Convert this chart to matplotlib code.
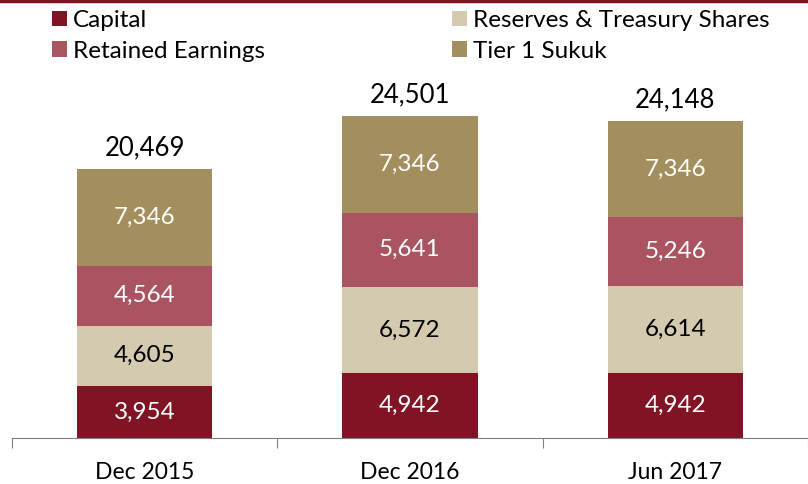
import numpy as np
import matplotlib.pyplot as plt
from matplotlib.lines import Line2D

plt.rcParams['font.family'] = ['Lato', 'DejaVu Sans']

categories = ['Dec 2015', 'Dec 2016', 'Jun 2017']
capital = [3954, 4942, 4942]
reserves = [4605, 6572, 6614]
retained = [4564, 5641, 5246]
sukuk = [7346, 7346, 7346]
totals = [20469, 24501, 24148]

series = [
    ('Capital', capital, '#801424', 'white'),
    ('Reserves & Treasury Shares', reserves, '#D3CAB0', 'black'),
    ('Retained Earnings', retained, '#AA5461', 'white'),
    ('Tier 1 Sukuk', sukuk, '#A38E5E', 'white'),
]

fig = plt.figure(figsize=(8.08, 4.84), dpi=100)
ax = fig.add_axes([12/808, 46/484, 796/808, 368/484])

x = np.arange(len(categories))
bottom = np.zeros(len(categories))
handles = {}
for name, vals, col, tcol in series:
    bars = ax.bar(x, vals, width=0.51, bottom=bottom, color=col, label=name)
    handles[name] = bars
    for xi, b, v in zip(x, bottom, vals):
        ax.text(xi, b + v / 2, f'{v:,}', ha='center', va='center',
                color=tcol, fontsize=17.5)
    bottom += np.array(vals)

for xi, t in zip(x, totals):
    ax.text(xi, t + 1600, f'{t:,}', ha='center', va='center',
            color='black', fontsize=18.5)

ax.set_xlim(-0.5, 2.5)
ax.set_ylim(0, 28000)
ax.set_yticks([])
for s in ['top', 'right', 'left']:
    ax.spines[s].set_visible(False)
ax.spines['bottom'].set_color('#808080')
ax.set_xticks([-0.5, 0.5, 1.5, 2.5])
ax.set_xticklabels([])
ax.set_xticks(x, minor=True)
ax.set_xticklabels(categories, minor=True, fontsize=16.5)
ax.tick_params(axis='x', which='major', length=7, color='#808080', direction='out')
ax.tick_params(axis='x', which='minor', length=0, pad=17.5)

leg_kw = dict(frameon=False, loc='upper left', fontsize=17.5,
              handlelength=0.62, handleheight=0.62, handletextpad=0.25,
              labelspacing=0.40, borderaxespad=0.0, borderpad=0.0)
col1 = ['Capital', 'Retained Earnings']
col2 = ['Reserves & Treasury Shares', 'Tier 1 Sukuk']
leg1 = fig.legend([handles[n] for n in col1], col1,
                  bbox_to_anchor=(52/808, 1 - 10/484), **leg_kw)
leg2 = fig.legend([handles[n] for n in col2], col2,
                  bbox_to_anchor=(452/808, 1 - 10/484), **leg_kw)

fig.add_artist(Line2D([0, 1], [1 - 1/484, 1 - 1/484], color='#801424', lw=2.5,
                      transform=fig.transFigure))

fig.savefig('out.png', dpi=100)
